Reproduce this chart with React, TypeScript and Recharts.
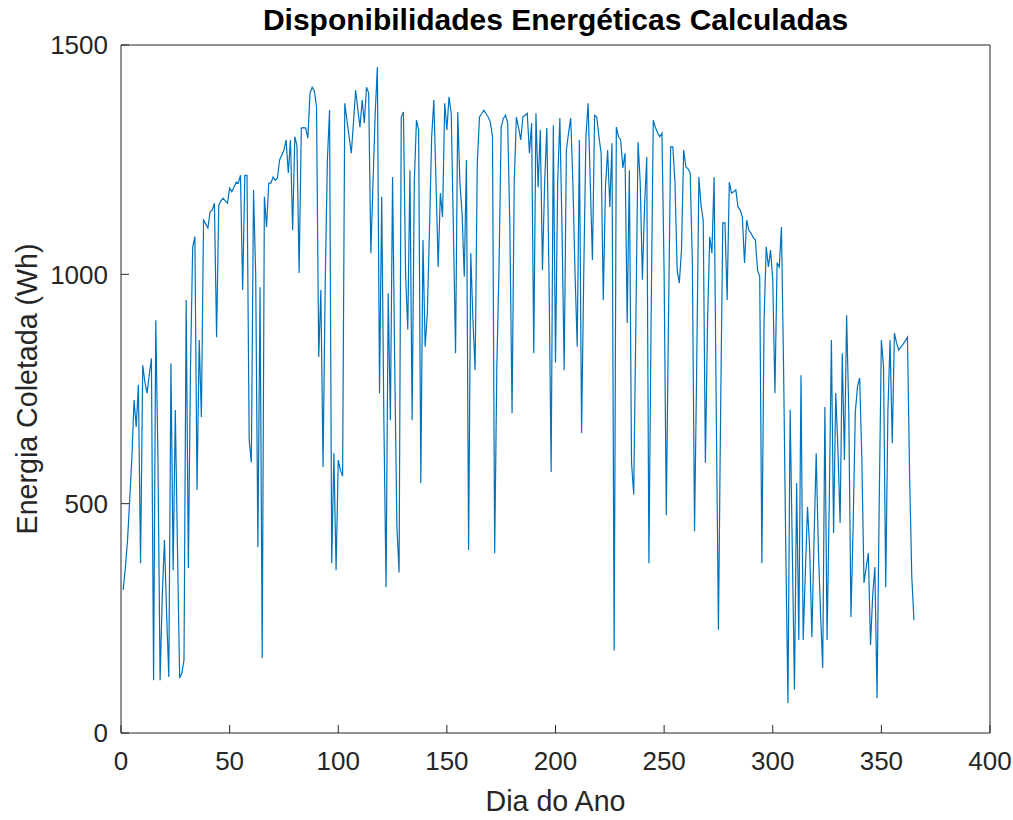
import { LineChart, Line, XAxis, YAxis } from "recharts";

// Energia coletada por dia (Wh), um array por mês
const jan = [312, 360, 420, 508, 600, 726, 667, 759, 370, 802, 765, 741, 780, 817, 115, 900, 600, 115, 300, 421, 260, 122, 806, 355, 704, 400, 120, 130, 159, 944, 360];
const fev = [800, 1060, 1082, 530, 857, 689, 1118, 1110, 1101, 1136, 1140, 1155, 863, 1151, 1160, 1166, 1160, 1155, 1188, 1180, 1190, 1201, 1199, 1216, 966, 1216, 1216, 639];
const mar = [590, 1184, 1000, 405, 972, 163, 1169, 1103, 1199, 1199, 1212, 1205, 1210, 1249, 1260, 1271, 1293, 1221, 1293, 1096, 1300, 1280, 1003, 1319, 1320, 1319, 1297, 1395, 1408, 1400, 1365];
const abr = [820, 966, 580, 980, 1250, 1358, 370, 610, 355, 595, 573, 560, 1373, 1336, 1300, 1264, 1330, 1402, 1360, 1321, 1380, 1330, 1408, 1395, 1046, 1200, 1350, 1452, 741, 1169];
const mai = [682, 318, 959, 682, 1212, 800, 449, 350, 1343, 1354, 1000, 879, 1227, 682, 1200, 1336, 1315, 545, 1075, 842, 915, 1100, 1300, 1380, 1200, 1016, 1177, 1125, 1373, 1315, 1387];
const jun = [1351, 1100, 828, 1354, 1200, 1133, 995, 1249, 399, 1046, 900, 791, 1242, 1343, 1350, 1358, 1350, 1343, 1332, 1300, 392, 800, 1016, 1321, 1340, 1347, 1330, 1100, 697, 1200];
const jul = [1343, 1320, 1293, 1343, 1347, 1351, 1264, 1330, 828, 1351, 1190, 1315, 1009, 1200, 1319, 1000, 569, 1325, 808, 1200, 1341, 1100, 791, 1271, 1308, 1341, 1200, 1000, 842, 1293, 654];
const ago = [1000, 1300, 1373, 1200, 1031, 1347, 1343, 1300, 1264, 944, 1190, 1271, 1147, 1286, 180, 1321, 1300, 1293, 1232, 1264, 894, 1227, 589, 520, 900, 1288, 1200, 988, 1150, 1256, 370];
const set = [900, 1336, 1320, 1308, 1300, 1308, 1000, 475, 900, 1278, 1278, 1200, 1009, 981, 1053, 1271, 1234, 1230, 1221, 1025, 440, 800, 1212, 1150, 1118, 589, 900, 1082, 1046, 1212];
const out = [700, 225, 700, 1112, 1112, 944, 1201, 1177, 1180, 1184, 1147, 1140, 1125, 1025, 1118, 1096, 1090, 1080, 1075, 1009, 995, 370, 900, 1060, 1016, 1053, 988, 741, 1025, 1016, 1103];
const nov = [791, 400, 65, 705, 400, 95, 545, 203, 780, 203, 350, 493, 400, 209, 420, 610, 400, 260, 142, 711, 203, 500, 857, 436, 741, 620, 458, 828, 595, 911];
const dez = [700, 253, 450, 700, 755, 774, 600, 327, 360, 392, 192, 300, 362, 76, 500, 857, 798, 318, 700, 857, 632, 872, 850, 835, 842, 848, 855, 863, 560, 340, 246];

const xTicks = [0, 50, 100, 150, 200, 250, 300, 350, 400];
const yTicks = [0, 500, 1000, 1500];

const energia = [...jan, ...fev, ...mar, ...abr, ...mai, ...jun, ...jul, ...ago, ...set, ...out, ...nov, ...dez];
const data = energia.map((e, i) => ({ dia: i + 1, e }));

const FONT = "'Liberation Sans', Arial, Helvetica, sans-serif";
const AXIS = "#262626";

export default function App() {
  const tickStyle = { fontSize: 26, fill: AXIS, fontFamily: FONT };
  return (
    <div style={{ position: "absolute", left: 0, top: 0, width: 1013, height: 820, background: "#fff" }}>
      <LineChart width={1013} height={820} data={data} margin={{ top: 44, right: 22, bottom: 57, left: 61 }}>
        <XAxis
          dataKey="dia"
          type="number"
          domain={[0, 400]}
          ticks={xTicks}
          interval={0}
          height={30}
          tickSize={-8}
          tickMargin={27}
          stroke={AXIS}
          tick={tickStyle}
        />
        {/* caixa do MATLAB: eixos espelhados em cima e à direita, só com traços */}
        <XAxis xAxisId="top" dataKey="dia" orientation="top" type="number" domain={[0, 400]} ticks={xTicks} interval={0} height={1} tickSize={-8} stroke={AXIS} tick={false} />
        <YAxis
          type="number"
          domain={[0, 1500]}
          ticks={yTicks}
          interval={0}
          width={60}
          tickSize={-8}
          tickMargin={21}
          stroke={AXIS}
          tick={tickStyle}
        />
        <YAxis yAxisId="right" orientation="right" type="number" domain={[0, 1500]} ticks={yTicks} interval={0} width={1} tickSize={-8} stroke={AXIS} tick={false} />
        <Line xAxisId="top" yAxisId="right" dataKey="e" stroke="none" dot={false} legendType="none" isAnimationActive={false} />
        <Line dataKey="e" type="linear" stroke="#0072BD" strokeWidth={1.2} dot={false} isAnimationActive={false} />
      </LineChart>
      <svg width={1013} height={820} style={{ position: "absolute", left: 0, top: 0, pointerEvents: "none" }}>
        <text x={555.5} y={30} textAnchor="middle" fontFamily={FONT} fontSize={30} fontWeight="bold" fill="#000">
          Disponibilidades Energéticas Calculadas
        </text>
        <text x={555.5} y={811} textAnchor="middle" fontFamily={FONT} fontSize={28.6} fill={AXIS}>
          Dia do Ano
        </text>
        <text transform="translate(37 389) rotate(-90)" textAnchor="middle" fontFamily={FONT} fontSize={28.6} fill={AXIS}>
          Energia Coletada (Wh)
        </text>
      </svg>
    </div>
  );
}
